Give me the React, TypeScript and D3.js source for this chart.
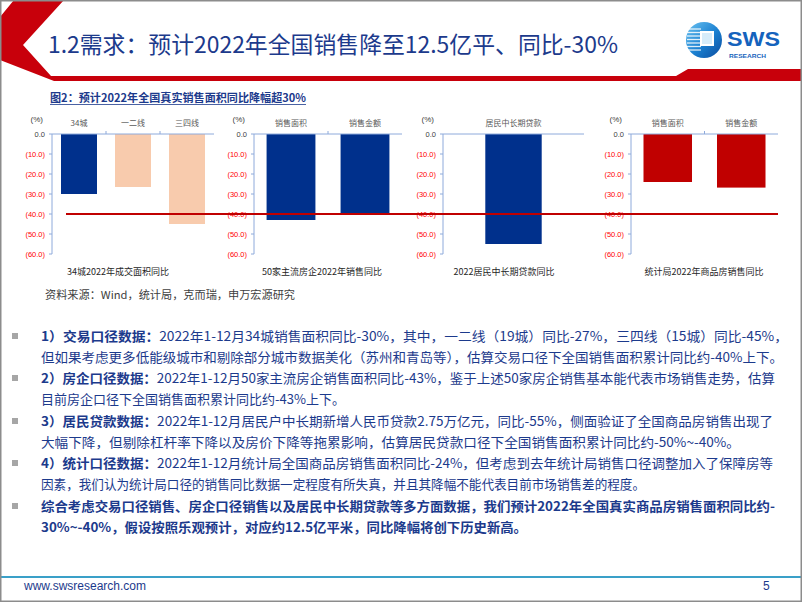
import React from 'react';
import * as d3 from 'd3';

// y axis shared by all four small panels
const yTicks = [0, -10, -20, -30, -40, -50, -60];
const refLineValue = -40;

// panel data
const cityCats = ['34城', '一二线', '三四线'];
const cityVals = [-30, -26.5, -45];
const developerCats = ['销售面积', '销售金额'];
const developerVals = [-43, -40.5];
const loanCats = ['居民中长期贷款'];
const loanVals = [-55];
const nbsCats = ['销售面积', '销售金额'];
const nbsVals = [-24, -26.8];

const panelTitles = [
  '34城2022年成交面积同比',
  '50家主流房企2022年销售同比',
  '2022居民中长期贷款同比',
  '统计局2022年商品房销售同比',
];

const slideTitle = '1.2需求：预计2022年全国销售降至12.5亿平、同比-30%';
const chartTitle = '图2：预计2022年全国真实销售面积同比降幅超30%';
const sourceNote = '资料来源：Wind，统计局，克而瑞，申万宏源研究';

const bullets = [
  {
    head: '1）交易口径数据：',
    lines: [
      '2022年1-12月34城销售面积同比-30%，其中，一二线（19城）同比-27%，三四线（15城）同比-45%，',
      '但如果考虑更多低能级城市和剔除部分城市数据美化（苏州和青岛等），估算交易口径下全国销售面积累计同比约-40%上下。',
    ],
  },
  {
    head: '2）房企口径数据：',
    lines: [
      '2022年1-12月50家主流房企销售面积同比-43%，鉴于上述50家房企销售基本能代表市场销售走势，估算',
      '目前房企口径下全国销售面积累计同比约-43%上下。',
    ],
  },
  {
    head: '3）居民贷款数据：',
    lines: [
      '2022年1-12月居民户中长期新增人民币贷款2.75万亿元，同比-55%，侧面验证了全国商品房销售出现了',
      '大幅下降，但剔除杠杆率下降以及房价下降等拖累影响，估算居民贷款口径下全国销售面积累计同比约-50%~-40%。',
    ],
  },
  {
    head: '4）统计口径数据：',
    lines: [
      '2022年1-12月统计局全国商品房销售面积同比-24%，但考虑到去年统计局销售口径调整加入了保障房等',
      '因素，我们认为统计局口径的销售同比数据一定程度有所失真，并且其降幅不能代表目前市场销售差的程度。',
    ],
  },
  {
    head: '',
    lines: [
      '综合考虑交易口径销售、房企口径销售以及居民中长期贷款等多方面数据，我们预计2022年全国真实商品房销售面积同比约-',
      '30%~-40%，假设按照乐观预计，对应约12.5亿平米，同比降幅将创下历史新高。',
    ],
  },
];

// layout / styling
const NAVY = '#00308c';
const PEACH = '#f8cbad';
const DARKRED = '#c00000';
const AXIS = '#8eaadb';
const TEXTBLUE = '#1c3a8c';
const CJK = '"Noto Sans CJK SC", "Noto Sans", sans-serif';
const LAT = '"Liberation Sans", Arial, sans-serif';

const bulletTops = [336, 378, 421, 463, 506];
const lineGap = 21;
const lineEnds = [
  [788, 783],
  [775, 345],
  [773, 740],
  [773, 645],
  [775, 527],
];

const y = d3.scaleLinear().domain([0, -60]).range([134, 254]);

const panels = [
  { cats: cityCats, vals: cityVals, colors: [NAVY, PEACH, PEACH], x0: 52, x1: 214, pad: 1 / 3, titleX: 118 },
  { cats: developerCats, vals: developerVals, colors: [NAVY, NAVY], x0: 254, x1: 402, pad: 0.34, titleX: 322 },
  { cats: loanCats, vals: loanVals, colors: [NAVY], x0: 443, x1: 584, pad: 0.6, titleX: 504 },
  { cats: nbsCats, vals: nbsVals, colors: [DARKRED, DARKRED], x0: 631, x1: 778, pad: 0.34, titleX: 704 },
];

const fmt = (v: number) => (v === 0 ? '0.0' : `(${Math.abs(v).toFixed(1)})`);

function Panel({ p, title }: { p: any; title: string }) {
  const x = d3.scaleBand<string>().domain(p.cats).range([p.x0, p.x1]).paddingInner(p.pad).paddingOuter(p.pad / 2);
  const step = x.step();
  return (
    <g>
      {p.cats.map((c: string, i: number) => (
        <rect key={c + i} x={x(c)} y={y(0)} width={x.bandwidth()} height={y(p.vals[i]) - y(0)} fill={p.colors[i]} />
      ))}
      {/* y axis */}
      <line x1={p.x0} x2={p.x0} y1={y(0)} y2={y(-60)} stroke={AXIS} strokeWidth={1} />
      {yTicks.map((t) => (
        <g key={t}>
          <line x1={p.x0 - 3} x2={p.x0} y1={y(t)} y2={y(t)} stroke={AXIS} />
          <text
            x={p.x0 - 7}
            y={y(t) + 2.6}
            textAnchor="end"
            fontFamily={LAT}
            fontSize={7.5}
            fill={t === 0 ? '#404040' : '#ff0000'}
          >
            {fmt(t)}
          </text>
        </g>
      ))}
      {/* category axis at zero */}
      <line x1={p.x0} x2={p.x1} y1={y(0)} y2={y(0)} stroke={AXIS} strokeWidth={1} />
      {p.cats.map((c: string, i: number) =>
        i > 0 ? (
          <line key={'t' + i} x1={p.x0 + step * i} x2={p.x0 + step * i} y1={y(0) - 3} y2={y(0)} stroke={AXIS} />
        ) : null
      )}
      {p.cats.map((c: string, i: number) => (
        <text
          key={'c' + i}
          x={(x(c) as number) + x.bandwidth() / 2}
          y={y(0) - 8}
          textAnchor="middle"
          fontFamily={CJK}
          fontSize={8}
          fill="#595959"
        >
          {c}
        </text>
      ))}
      <text x={p.x0 - 9} y={y(0) - 12} textAnchor="end" fontFamily={LAT} fontSize={8} fill="#404040">
        (%)
      </text>
      <text x={p.titleX} y={275} textAnchor="middle" fontFamily={CJK} fontSize={9} fill="#262626">
        {title}
      </text>
    </g>
  );
}

export default function App() {
  return (
    <svg
      width={802}
      height={602}
      viewBox="0 0 802 602"
      style={{ position: 'absolute', left: 0, top: 0, background: '#fff' }}
    >
      <defs>
        <linearGradient id="logoGrad" x1="0" y1="0" x2="1" y2="1">
          <stop offset="0" stopColor="#6cc4f2" />
          <stop offset="0.55" stopColor="#1a7fd0" />
          <stop offset="1" stopColor="#0b4b9e" />
        </linearGradient>
      </defs>
      <rect x={0} y={0} width={802} height={602} fill="#fff" />

      {/* header chevron + band */}
      <polygon
        points="14,0 64,0 23,45 51,76 676,76 688,69 802,69 802,81 54,81 0,60 0,17"
        fill="#c8000b"
      />
      <text x={48} y={53} fontFamily={CJK} fontSize={23} fill={TEXTBLUE} textLength={570} lengthAdjust="spacingAndGlyphs">
        {slideTitle}
      </text>

      {/* logo */}
      <circle cx={704} cy={40} r={18} fill="url(#logoGrad)" />
      {[29, 32.5, 36, 39.5, 43, 46.5, 50].map((yy) => (
        <line key={yy} x1={687} x2={701} y1={yy} y2={yy} stroke="#fff" strokeWidth={1.3} opacity={0.85} />
      ))}
      <rect x={700} y={31} width={14} height={15} fill="#fff" />
      <rect x={702} y={33} width={10} height={11} fill="#d6ecfa" />
      <text x={727} y={46} fontFamily={LAT} fontWeight="bold" fontSize={20} fill="#1563bd" textLength={53} lengthAdjust="spacingAndGlyphs">
        SWS
      </text>
      <text x={729} y={57.5} fontFamily={LAT} fontWeight="bold" fontSize={6} fill="#1563bd" textLength={37} lengthAdjust="spacingAndGlyphs">
        RESEARCH
      </text>

      {/* chart title */}
      <text x={50} y={102} fontFamily={CJK} fontWeight="bold" fontSize={11} fill={TEXTBLUE} textLength={256} lengthAdjust="spacingAndGlyphs">
        {chartTitle}
      </text>
      <line x1={50} x2={306} y1={104.5} y2={104.5} stroke={TEXTBLUE} strokeWidth={0.8} />

      {panels.map((p, i) => (
        <Panel key={i} p={p} title={panelTitles[i]} />
      ))}

      {/* -40% reference line */}
      <line x1={66} x2={778} y1={y(refLineValue)} y2={y(refLineValue)} stroke={DARKRED} strokeWidth={1.8} />

      <text x={45} y={299} fontFamily={CJK} fontSize={11} fill="#404040" textLength={250} lengthAdjust="spacingAndGlyphs">
        {sourceNote}
      </text>

      {/* bullet text */}
      {bullets.map((b, bi) => (
        <g key={bi}>
          <rect x={12} y={bulletTops[bi] - 3} width={6} height={6} fill="#a6a6a6" />
          {b.lines.map((ln, li) => (
            <text
              key={li}
              x={41}
              y={bulletTops[bi] + li * lineGap + 4.5}
              fontFamily={CJK}
              fontSize={13}
              fill={TEXTBLUE}
              fontWeight={b.head === '' ? 'bold' : 'normal'}
              textLength={lineEnds[bi][li] - 41}
              lengthAdjust="spacingAndGlyphs"
            >
              {li === 0 && b.head ? <tspan fontWeight="bold">{b.head}</tspan> : null}
              {ln}
            </text>
          ))}
        </g>
      ))}

      {/* footer */}
      <line x1={0} x2={802} y1={577} y2={577} stroke="#3aa0c8" strokeWidth={2} />
      <text x={24} y={590} fontFamily={LAT} fontSize={12} fill={TEXTBLUE}>
        www.swsresearch.com
      </text>
      <text x={763} y={590} fontFamily={LAT} fontSize={12} fill={TEXTBLUE}>
        5
      </text>

      {/* slide frame */}
      <rect x={0.75} y={0.75} width={800.5} height={600.5} fill="none" stroke="#8c8c8c" strokeWidth={1.5} />
    </svg>
  );
}
